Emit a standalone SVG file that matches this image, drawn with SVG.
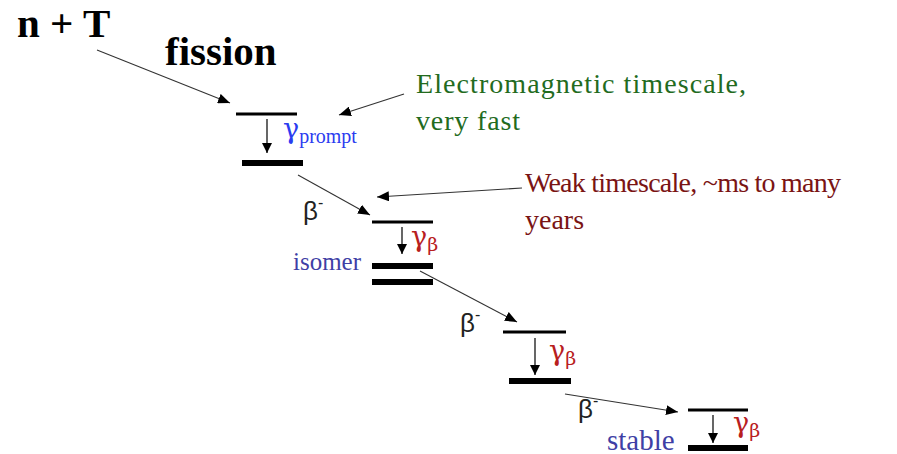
<svg xmlns="http://www.w3.org/2000/svg" width="897" height="454" viewBox="0 0 897 454">
<defs>
<marker id="ah" viewBox="0 0 12 10" refX="12" refY="5" markerUnits="userSpaceOnUse" markerWidth="12" markerHeight="10" orient="auto">
<path d="M0,0 L12,5 L0,10 z" fill="#000"/>
</marker>
<marker id="ahs" viewBox="0 0 10 10" refX="10" refY="5" markerUnits="userSpaceOnUse" markerWidth="10" markerHeight="10" orient="auto">
<path d="M0,0 L10,5 L0,10 z" fill="#000"/>
</marker>
</defs>
<style>
.conn{stroke:#333;stroke-width:1.1;fill:none;marker-end:url(#ah)}
.gam{stroke:#000;stroke-width:1.2;fill:none;marker-end:url(#ahs)}
.thin{stroke:#000;stroke-width:3}
.thick{stroke:#000;stroke-width:6}
.big{font-family:"Liberation Serif",serif;font-weight:bold;font-size:41px;fill:#000}
.note{font-family:"Liberation Serif",serif;font-size:28px}
.green{fill:#236b1e}
.red{fill:#7a1414}
.beta{font-family:"Liberation Sans",sans-serif;font-size:26px;fill:#222}
.gp{font-family:"DejaVu Serif",serif;fill:#2b3cf0}
.gb{font-family:"DejaVu Serif",serif;fill:#b8201e;font-size:27px}
.sub{font-family:"Liberation Serif",serif}
.lab{font-family:"Liberation Serif",serif;fill:#3f3fa5}
</style>
<g id="connectors">
<line class="conn" x1="97" y1="50" x2="230" y2="103"/>
<line class="conn" x1="404" y1="94" x2="339" y2="115"/>
<line class="conn" x1="522" y1="188" x2="377" y2="197"/>
<line class="conn" x1="298" y1="175" x2="370" y2="215"/>
<line class="conn" x1="420" y1="271" x2="517" y2="322"/>
<line class="conn" x1="565" y1="394" x2="678" y2="412"/>
<line class="gam" x1="267" y1="119" x2="267" y2="153"/>
<line class="gam" x1="402" y1="227" x2="402" y2="254"/>
<line class="gam" x1="535" y1="338" x2="535" y2="375"/>
<line class="gam" x1="713" y1="415" x2="713" y2="443"/>
</g>
<g id="nT"><text class="big" x="17" y="37">n + T</text></g>
<g id="fission"><text class="big" x="165" y="65">fission</text></g>
<g id="em-note"><text class="note green" x="416" y="93" textLength="330">Electromagnetic timescale,</text><text class="note green" x="416" y="130" textLength="104">very fast</text></g>
<g id="weak-note"><text class="note red" x="525" y="192" textLength="316">Weak timescale, ~ms to many</text><text class="note red" x="525" y="229">years</text></g>
<g id="level1">
<line class="thin" x1="236" y1="114" x2="297" y2="114"/>
<line class="thick" x1="242" y1="163" x2="303" y2="163"/>
<text class="gp" x="283" y="138" font-size="27">γ<tspan class="sub" font-size="20" dy="5">prompt</tspan></text>
</g>
<g id="beta1"><text class="beta" x="303" y="220">β<tspan font-size="16" dy="-12">-</tspan></text></g>
<g id="level2">
<line class="thin" x1="372" y1="222" x2="433" y2="222"/>
<line class="thick" x1="372" y1="266" x2="433" y2="266"/>
<line class="thick" x1="372" y1="282" x2="433" y2="282"/>
<text class="gb" x="411" y="246">γ<tspan font-size="19" dy="5">β</tspan></text>
<text class="lab" x="293" y="270" style="font-size:25px">isomer</text>
</g>
<g id="beta2"><text class="beta" x="460" y="332">β<tspan font-size="16" dy="-12">-</tspan></text></g>
<g id="level3">
<line class="thin" x1="503" y1="332" x2="566" y2="332"/>
<line class="thick" x1="509" y1="381" x2="571" y2="381"/>
<text class="gb" x="549" y="360">γ<tspan font-size="19" dy="5">β</tspan></text>
</g>
<g id="beta3"><text class="beta" x="578" y="418">β<tspan font-size="16" dy="-12">-</tspan></text></g>
<g id="level4">
<line class="thin" x1="688" y1="410" x2="748" y2="410"/>
<line class="thick" x1="688" y1="448" x2="748" y2="448"/>
<text class="gb" x="733" y="432">γ<tspan font-size="19" dy="5">β</tspan></text>
<text class="lab" x="607" y="450" style="font-size:29px">stable</text>
</g>
</svg>
